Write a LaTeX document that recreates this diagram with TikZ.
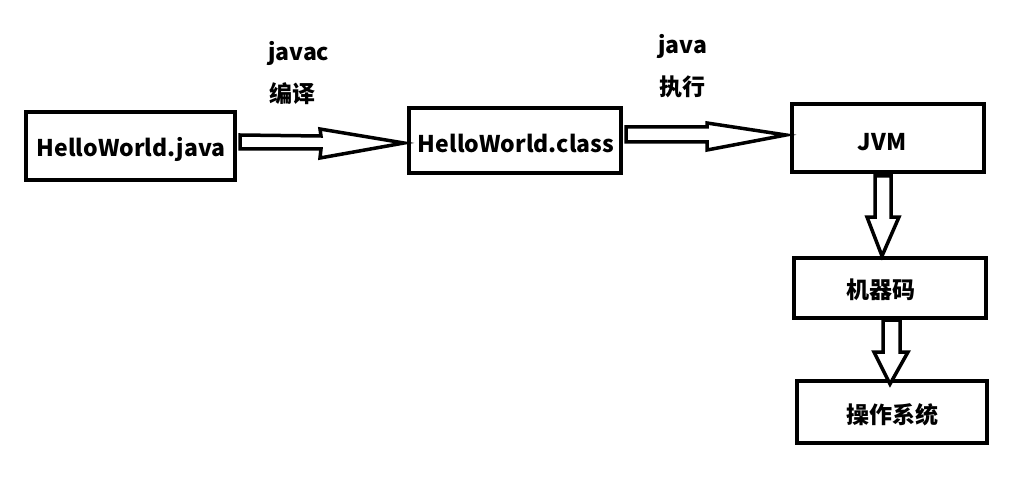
\documentclass[tikz,border=0pt]{standalone}
\usepackage{fontspec}
\setmainfont{Noto Sans CJK SC}
\begin{document}
\begin{tikzpicture}[x=1pt,y=-1pt,
  box/.style={draw=black,line width=4pt,fill=white,inner sep=0pt,font=\fontsize{23}{26}\selectfont\bfseries},
  lbl/.style={inner sep=0pt,font=\fontsize{23}{26}\selectfont\bfseries},
  barrow/.style={draw=black,line width=3.5pt,fill=white,line join=miter}]
\useasboundingbox (0,0) rectangle (1034,500);
% boxes
\node[box,minimum width=209pt,minimum height=68pt] (hj) at (130.5,146) {};
\node[lbl] (thj) at (131,149) {HelloWorld.java};
\node[box,minimum width=212pt,minimum height=65pt] (hc) at (515,140.5) {};
\node[lbl] (thc) at (516,143) {HelloWorld.class};
\node[box,minimum width=192pt,minimum height=68pt] (jvm) at (888,138) {};
\node[lbl] (tjvm) at (882,142) {JVM};
\node[box,minimum width=192pt,minimum height=60pt] (mc) at (890,288) {};
\node[lbl] (tmc) at (881,290) {机器码};
\node[box,minimum width=190pt,minimum height=62pt] (os) at (892,412) {};
\node[lbl] (tos) at (892,415) {操作系统};
% labels
\node[lbl,anchor=base west] (l1) at (268,61) {javac};
\node[lbl] (l2) at (292.5,93.5) {编译};
\node[lbl,anchor=base west] (l3) at (658,54) {java};
\node[lbl] (l4) at (682,86.5) {执行};
% block arrows
\draw[barrow] (240,135) -- (321,136) -- (320,129) -- (404,143) -- (320,158) -- (321,149) -- (240,149) -- cycle;
\draw[barrow] (626,127) -- (707,127) -- (707,123) -- (786,135) -- (707,150) -- (707,142) -- (626,142) -- cycle;
\draw[barrow] (875,176) -- (891,176) -- (891,217) -- (899,217) -- (882,256) -- (867,217) -- (875,217) -- cycle;
\draw[barrow] (883,320) -- (900,320) -- (900,352) -- (908,352) -- (890,384) -- (874,352) -- (883,352) -- cycle;
\end{tikzpicture}
\end{document}
